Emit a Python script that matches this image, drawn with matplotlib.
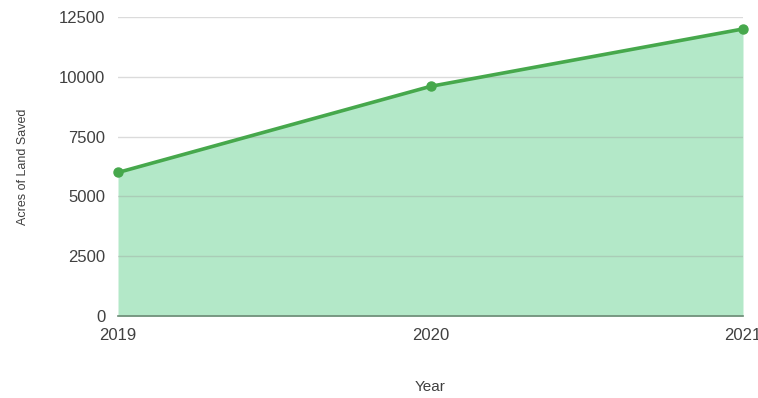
import matplotlib
matplotlib.use("Agg")
import matplotlib.pyplot as plt

years = [2019, 2020, 2021]
acres = [6000, 9600, 12000]
yticks = [0, 2500, 5000, 7500, 10000, 12500]

plt.rcParams['font.family'] = ['Liberation Sans', 'DejaVu Sans']

fig = plt.figure(figsize=(7.58, 3.98), dpi=100)
ax = fig.add_axes([118/758, 1-316/398, (743-118)/758, (316-17)/398])

ax.fill_between(years, acres, 0, color='#5fcf8a', alpha=0.47, linewidth=0, zorder=1)
ax.plot(years, acres, color='#46a84c', linewidth=2.6, marker='o', markersize=6.5, zorder=3, clip_on=False)

ax.set_xlim(2019, 2021)
ax.set_ylim(0, 12500)
ax.set_yticks(yticks)
ax.set_yticklabels([str(v) for v in yticks])
ax.set_xticks(years)
ax.set_xticklabels([str(y) for y in years])

ax.grid(axis='y', color='#9a9a9a', alpha=0.35, linewidth=1, zorder=2)
ax.set_axisbelow(False)
for s in ['top', 'right', 'left']:
    ax.spines[s].set_visible(False)
ax.spines['bottom'].set_color('#6a8a74')
ax.spines['bottom'].set_linewidth(1.2)
ax.tick_params(axis='both', length=0, labelsize=12, colors='#404040')
ax.tick_params(axis='y', pad=9)
ax.tick_params(axis='x', pad=9)

ax.set_ylabel('Acres of Land Saved', fontsize=9, color='#404040', labelpad=22)
ax.set_xlabel('Year', fontsize=11, color='#404040', labelpad=26)

fig.savefig('out.png', dpi=100)
